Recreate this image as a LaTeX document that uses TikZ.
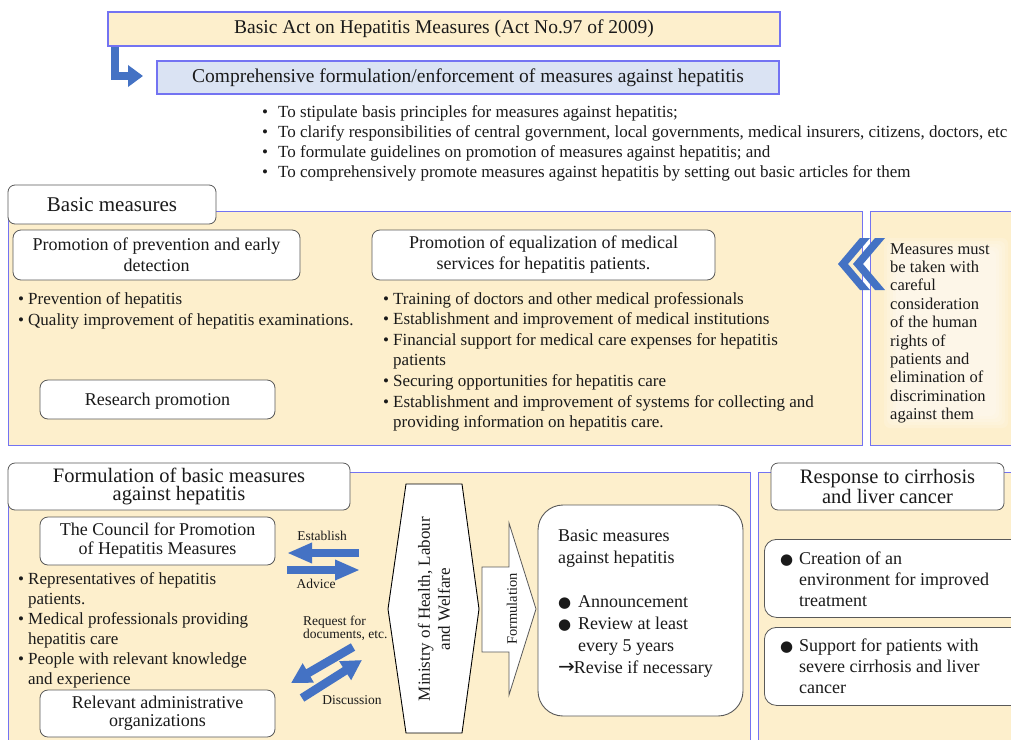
\documentclass[tikz,border=0pt]{standalone}
\usepackage{fontspec}
\setmainfont{Liberation Serif}
\newfontfamily\symf{DejaVu Sans}
\usetikzlibrary{arrows.meta}
\definecolor{orfill}{HTML}{FDEFCC}
\definecolor{blfill}{HTML}{DAE3F3}
\definecolor{pnblue}{HTML}{7373F2}
\definecolor{arblue}{HTML}{4472C4}
\definecolor{grayb}{HTML}{595959}
\definecolor{txtc}{HTML}{1A1A1A}
\newcommand{\fsz}[2]{\fontsize{#1}{#2}\selectfont}
\newcommand{\blt}{\makebox[10pt][l]{•}}
\newcommand{\nbl}{\hspace*{10pt}}
\newcommand{\bdot}{{\symf\fontsize{15}{15}\selectfont ●}}
\newcommand{\bbl}{\makebox[20pt][l]{\bdot}}
\newcommand{\nbbl}{\hspace*{20pt}}
\begin{document}
\begin{tikzpicture}[x=1pt,y=-1pt,
  every node/.style={text=txtc},
  hdbox/.style={draw=pnblue, line width=1.2pt, inner sep=0, font=\fsz{19.5}{22}},
  tab/.style={draw=grayb, fill=white, rounded corners=7pt, line width=0.8pt, inner sep=0, align=center},
  wbox/.style={draw=grayb, fill=white, rounded corners=8pt, line width=0.8pt, inner sep=0, align=center},
  panel/.style={draw=pnblue, fill=orfill, line width=1pt},
  lst/.style={inner sep=0, anchor=north west, align=left},
  ar/.style={arblue, line width=8pt, -{Triangle[length=25pt,width=19pt]}},
  ar2/.style={arblue, line width=8.5pt, -{Triangle[length=20pt,width=21pt]}},
  lbl/.style={inner sep=0, font=\fsz{13.5}{13}}
]
\useasboundingbox (0,0) rectangle (1011,739);
\clip (0,0) rectangle (1011,739);
\fill[white] (0,0) rectangle (1011,739);

% top
\node[hdbox, fill=orfill, minimum width=672, minimum height=34] (act) at (444,29) {Basic Act on Hepatitis Measures (Act No.97 of 2009)};
\node[hdbox, fill=blfill, minimum width=622, minimum height=33] (comp) at (468,77.5) {Comprehensive formulation/enforcement of measures against hepatitis};
\coordinate (e0) at (115,47);
\coordinate (e1) at (143,76);
\draw[arblue, line width=7.5pt, -{Triangle[length=15pt,width=21pt]}] (e0) |- (e1);

\node[lst, font=\fsz{17}{20}] (aims) at (262,105) {\makebox[16pt][l]{•}To stipulate basis principles for measures against hepatitis;\\
\makebox[16pt][l]{•}To clarify responsibilities of central government, local governments, medical insurers, citizens, doctors, etc\\
\makebox[16pt][l]{•}To formulate guidelines on promotion of measures against hepatitis; and\\
\makebox[16pt][l]{•}To comprehensively promote measures against hepatitis by setting out basic articles for them};

% basic measures
\draw[panel] (8,211) rectangle (862,445);
\draw[panel] (870,211) rectangle (1030,445);
\foreach \i in {0,...,4}{
  \fill[white, opacity=0.16, rounded corners=6pt] (884+3*\i,238+3*\i) rectangle (1008-3*\i,428-3*\i);
}
\node[tab, minimum width=208, minimum height=39, font=\fsz{21}{24}] (bmt) at (112,204.5) {Basic measures};

\node[wbox, minimum width=287, minimum height=50, font=\fsz{18}{21}] (prev) at (156.5,255) {Promotion of prevention and early\\detection};
\node[lst, font=\fsz{17}{21}] (prevl) at (18,292) {\blt Prevention of hepatitis\\\blt Quality improvement of hepatitis examinations.};
\node[wbox, minimum width=235, minimum height=39, font=\fsz{18}{21}, text depth=0pt] (res) at (157.5,399.5) {Research promotion};

\node[wbox, minimum width=343, minimum height=50, font=\fsz{18}{21}] (equ) at (543.5,255) {Promotion of equalization of medical\\services for hepatitis patients.};
\node[lst, font=\fsz{17}{20.6}] (equl) at (383,292) {\blt Training of doctors and other medical professionals\\
\blt Establishment and improvement of medical institutions\\
\blt Financial support for medical care expenses for hepatitis\\
\nbl patients\\
\blt Securing opportunities for hepatitis care\\
\blt Establishment and improvement of systems for collecting and\\
\nbl providing information on hepatitis care.};

\fill[arblue] (838,264) -- (860,238) -- (870,238) -- (848,264) -- (870,290) -- (860,290) -- cycle;
\fill[arblue] (853,264) -- (875,238) -- (885,238) -- (863,264) -- (885,290) -- (875,290) -- cycle;

\node[lst, font=\fsz{16.5}{18.4}] (rights) at (890,243) {Measures must\\be taken with\\careful\\consideration\\of the human\\rights of\\patients and\\elimination of\\discrimination\\against them};

% bottom
\draw[panel] (8,472) rectangle (750,750);
\draw[panel] (758,472) rectangle (1030,750);
\node[tab, minimum width=342, minimum height=47, font=\fsz{20.5}{18.5}] (fbt) at (179,486.5) {Formulation of basic measures\\against hepatitis};
\node[tab, minimum width=233, minimum height=47, font=\fsz{20.5}{18.5}] (rct) at (887.5,486.5) {Response to cirrhosis\\and liver cancer};

\node[wbox, minimum width=235, minimum height=48, font=\fsz{18}{19}] (cou) at (157.5,541) {The Council for Promotion\\of Hepatitis Measures};
\node[lst, font=\fsz{17}{20}] (coul) at (18,572) {\blt Representatives of hepatitis\\\nbl patients.\\\blt Medical professionals providing\\\nbl hepatitis care\\\blt People with relevant knowledge\\\nbl and experience};
\node[wbox, minimum width=235, minimum height=47, font=\fsz{18}{18}] (adm) at (157.5,713.5) {Relevant administrative\\organizations};

\coordinate (esA) at (359,553); \coordinate (esB) at (287,553);
\draw[ar] (esA) -- (esB);
\coordinate (adA) at (287,570); \coordinate (adB) at (360,570);
\draw[ar] (adA) -- (adB);
\node[lbl] (lest) at (322,536) {Establish};
\node[lbl] (ladv) at (316,584) {Advice};
\node[lbl, lst] (lreq) at (303,616) {Request for\\documents, etc.};
\node[lbl] (ldis) at (352,700) {Discussion};
\coordinate (rqA) at (353,647); \coordinate (rqB) at (291,683);
\draw[ar2] (rqA) -- (rqB);
\coordinate (dsA) at (302,698); \coordinate (dsB) at (362,660);
\draw[ar2] (dsA) -- (dsB);

\draw[fill=white, draw=black, line width=0.9pt] (406,484) -- (462,484) -- (479,609) -- (462,733) -- (406,733) -- (388,609) -- cycle;
\node[rotate=90, align=center, inner sep=0, font=\fsz{17}{20}] (mhlw) at (434,609) {Ministry of Health, Labour\\and Welfare};

\draw[fill=white, draw=grayb, line width=0.8pt] (482,567) -- (509,567) -- (509,523) -- (536,609) -- (509,695) -- (509,652) -- (482,652) -- cycle;
\node[rotate=90, inner sep=0, font=\fsz{14.5}{15}] (form) at (512,609) {Formulation};

\node[draw=grayb, fill=white, rounded corners=25pt, minimum width=205, minimum height=211, line width=0.9pt, inner sep=0] (bmb) at (640.5,610.5) {};
\node[lst, font=\fsz{18}{22}] (bmbt) at (558,529) {Basic measures\\against hepatitis\\[22pt]\bbl Announcement\\\bbl Review at least\\\nbbl every 5 years\\{\symf\fontsize{20}{20}\selectfont →}\kern-1pt Revise if necessary};

\node[wbox, rounded corners=12pt, minimum width=262, minimum height=78, anchor=north west] (cr1) at (764,539) {};
\node[lst, font=\fsz{18}{21}] (cr1t) at (780,552) {\makebox[19pt][l]{\bdot}Creation of an\\\hspace*{19pt}environment for improved\\\hspace*{19pt}treatment};
\node[wbox, rounded corners=12pt, minimum width=262, minimum height=78, anchor=north west] (cr2) at (764,627) {};
\node[lst, font=\fsz{18}{21}] (cr2t) at (780,639) {\makebox[19pt][l]{\bdot}Support for patients with\\\hspace*{19pt}severe cirrhosis and liver\\\hspace*{19pt}cancer};
\end{tikzpicture}
\end{document}
